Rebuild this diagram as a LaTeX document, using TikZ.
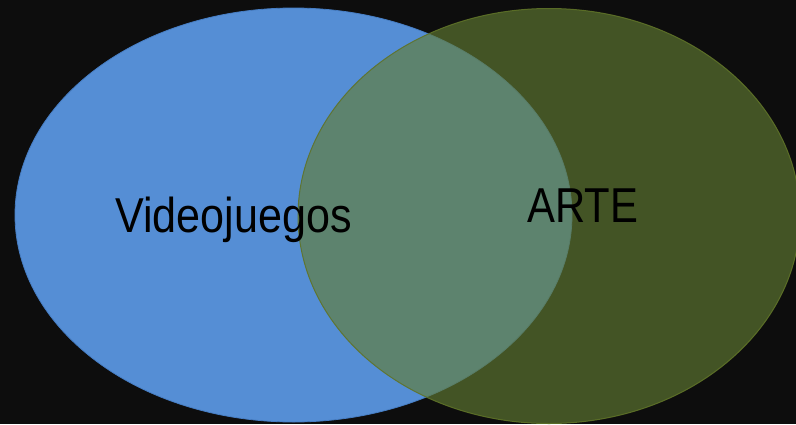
\documentclass[tikz,border=0pt]{standalone}
\usepackage{fontspec}
\setmainfont{Liberation Sans}
\definecolor{bgc}{RGB}{13,13,13}
\definecolor{bluef}{RGB}{85,142,213}
\definecolor{bluel}{RGB}{70,125,195}
\definecolor{greenf}{RGB}{99,125,52}
\definecolor{greenl}{RGB}{95,115,40}
\tikzset{
  setA/.style={fill=bluef, draw=bluel, line width=0.8pt},
  setB/.style={fill=greenf, fill opacity=0.64, draw=greenl, draw opacity=0.9, line width=1pt},
  lbl/.style={text=black, font=\fontsize{49}{49}\selectfont, inner sep=0pt, anchor=base west, xscale=0.88},
}
\begin{document}
\begin{tikzpicture}[x=1pt,y=-1pt]
\fill[bgc] (0,0) rectangle (796,424);
\useasboundingbox (0,0) rectangle (796,424);
\path[setA] (293.5,215) ellipse [x radius=278.5, y radius=207];
\path[setB] (549,216) ellipse [x radius=251, y radius=207.5];
\node[lbl] (vid) at (115,232) {Videojuegos};
\node[lbl, xscale=0.97] (arte) at (527,222) {ARTE};
\end{tikzpicture}
\end{document}
